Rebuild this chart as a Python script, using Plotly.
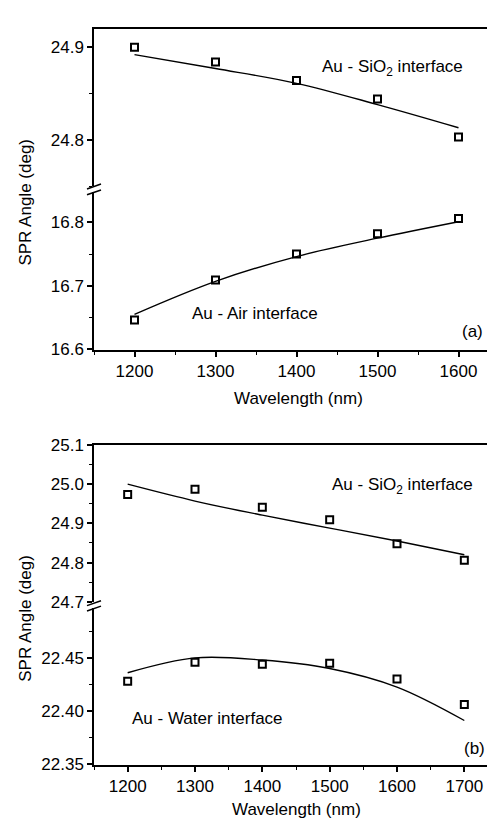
import plotly.graph_objects as go

# ---------------- data ----------------
wl_a = [1200, 1300, 1400, 1500, 1600]
sio2_a = [24.900, 24.884, 24.864, 24.844, 24.803]
sio2_a_fit = [24.892, 24.877, 24.861, 24.838, 24.813]
air_a = [16.646, 16.709, 16.750, 16.782, 16.806]
air_a_fit = [16.655, 16.707, 16.746, 16.775, 16.801]

wl_b = [1200, 1300, 1400, 1500, 1600, 1700]
sio2_b = [24.974, 24.987, 24.941, 24.909, 24.848, 24.806]
sio2_b_fit = [25.000, 24.957, 24.921, 24.888, 24.855, 24.820]
water_b = [22.428, 22.446, 22.444, 22.445, 22.430, 22.406]
water_b_fit = [22.436, 22.450, 22.448, 22.440, 22.4225, 22.391]

W, H = 495, 824
FONT = "Liberation Sans, Arial, sans-serif"


def px(x):
    return x / W


def py(y):
    return 1 - y / H


fig = go.Figure()

mk = dict(symbol="square-open", size=7, color="black", line=dict(width=2, color="black"))
ln = dict(color="black", width=1.4, shape="spline")


def add(xs, ys, fit, xa, ya):
    fig.add_trace(go.Scatter(x=xs, y=fit, mode="lines", line=ln, xaxis=xa, yaxis=ya,
                             showlegend=False, hoverinfo="skip"))
    fig.add_trace(go.Scatter(x=xs, y=ys, mode="markers", marker=mk, xaxis=xa, yaxis=ya,
                             showlegend=False))


add(wl_a, air_a, air_a_fit, "x", "y")
add(wl_a, sio2_a, sio2_a_fit, "x2", "y2")
add(wl_b, water_b, water_b_fit, "x3", "y3")
add(wl_b, sio2_b, sio2_b_fit, "x4", "y4")

tickfont = dict(family=FONT, size=17, color="black")
common_x = dict(showgrid=False, zeroline=False, showline=True, linecolor="black", linewidth=1.5)
common_y = dict(showgrid=False, zeroline=False, showline=True, linecolor="black", linewidth=1.5,
                mirror=True, ticks="outside", ticklen=5, tickwidth=1.5, tickcolor="black",
                tickfont=tickfont)
minor_kw = dict(ticks="outside", ticklen=3, tickwidth=1.2, tickcolor="black")

xa_dom = [px(86), px(491)]
xb_dom = [px(86), px(490)]

fig.update_layout(
    width=W, height=H,
    margin=dict(l=0, r=0, t=0, b=0),
    paper_bgcolor="white", plot_bgcolor="white",
    showlegend=False,
    xaxis=dict(**common_x, domain=xa_dom, anchor="y", range=[1150, 1650], dtick=100,
               ticks="outside", ticklen=5, tickwidth=1.5, tickcolor="black", tickfont=tickfont,
               minor=dict(**minor_kw, dtick=50)),
    yaxis=dict(**common_y, domain=[py(340.7), py(179)], anchor="x", range=[16.599, 16.848],
               dtick=0.1, tick0=0, tickformat=".1f", minor=dict(**minor_kw, dtick=0.05)),
    xaxis2=dict(**common_x, domain=xa_dom, anchor="y2", side="top", range=[1150, 1650],
                showticklabels=False, ticks=""),
    yaxis2=dict(**common_y, domain=[py(173), py(12)], anchor="x2", range=[24.75, 24.92],
                dtick=0.1, tick0=0, tickformat=".1f", minor=dict(**minor_kw, dtick=0.05)),
    xaxis3=dict(**common_x, domain=xb_dom, anchor="y3", range=[1150, 1750], dtick=100,
                ticks="outside", ticklen=5, tickwidth=1.5, tickcolor="black", tickfont=tickfont,
                minor=dict(**minor_kw, dtick=50)),
    yaxis3=dict(**common_y, domain=[py(765.7), py(605)], anchor="x3", range=[22.349, 22.497],
                dtick=0.05, tick0=0, tickformat=".2f", minor=dict(**minor_kw, dtick=0.025)),
    xaxis4=dict(**common_x, domain=xb_dom, anchor="y4", side="top", range=[1150, 1750],
                showticklabels=False, ticks=""),
    yaxis4=dict(**common_y, domain=[py(599), py(437.7)], anchor="x4", range=[24.699, 25.101],
                dtick=0.1, tick0=0, tickformat=".1f", minor=dict(**minor_kw, dtick=0.05)),
)

afont = dict(family=FONT, size=17, color="black")
annots = [
    dict(text="Au - SiO<sub>2</sub> interface", x=px(457), y=py(52), xanchor="right", yanchor="middle"),
    dict(text="Au - Air interface", x=px(182), y=py(304), xanchor="left", yanchor="middle"),
    dict(text="(a)", x=px(477), y=py(322), xanchor="right", yanchor="middle"),
    dict(text="Au - SiO<sub>2</sub> interface", x=px(467), y=py(480), xanchor="right", yanchor="middle"),
    dict(text="Au - Water interface", x=px(122), y=py(718), xanchor="left", yanchor="middle"),
    dict(text="(b)", x=px(479), y=py(749), xanchor="right", yanchor="middle"),
    dict(text="Wavelength (nm)", x=px(290), y=py(390), xanchor="center", yanchor="middle"),
    dict(text="Wavelength (nm)", x=px(288), y=py(811), xanchor="center", yanchor="middle"),
    dict(text="SPR Angle (deg)", x=px(18), y=py(190), xanchor="center", yanchor="middle", textangle=-90),
    dict(text="SPR Angle (deg)", x=px(18), y=py(616), xanchor="center", yanchor="middle", textangle=-90),
]
for a in annots:
    fig.add_annotation(xref="paper", yref="paper", showarrow=False, font=afont, **a)

# axis-break marks
shapes = []


def brk(xc, y1, y2):
    for yc in (y1, y2):
        shapes.append(dict(type="line", xref="paper", yref="paper",
                           x0=px(xc - 7), y0=py(yc + 2.5), x1=px(xc + 7), y1=py(yc - 2.5),
                           line=dict(color="black", width=1.5)))


brk(86, 173.5, 179.5)
brk(491, 173.5, 179.5)
brk(86, 600, 605.5)
brk(490, 600, 605.5)
fig.update_layout(shapes=shapes)

fig.write_html("out.html")
